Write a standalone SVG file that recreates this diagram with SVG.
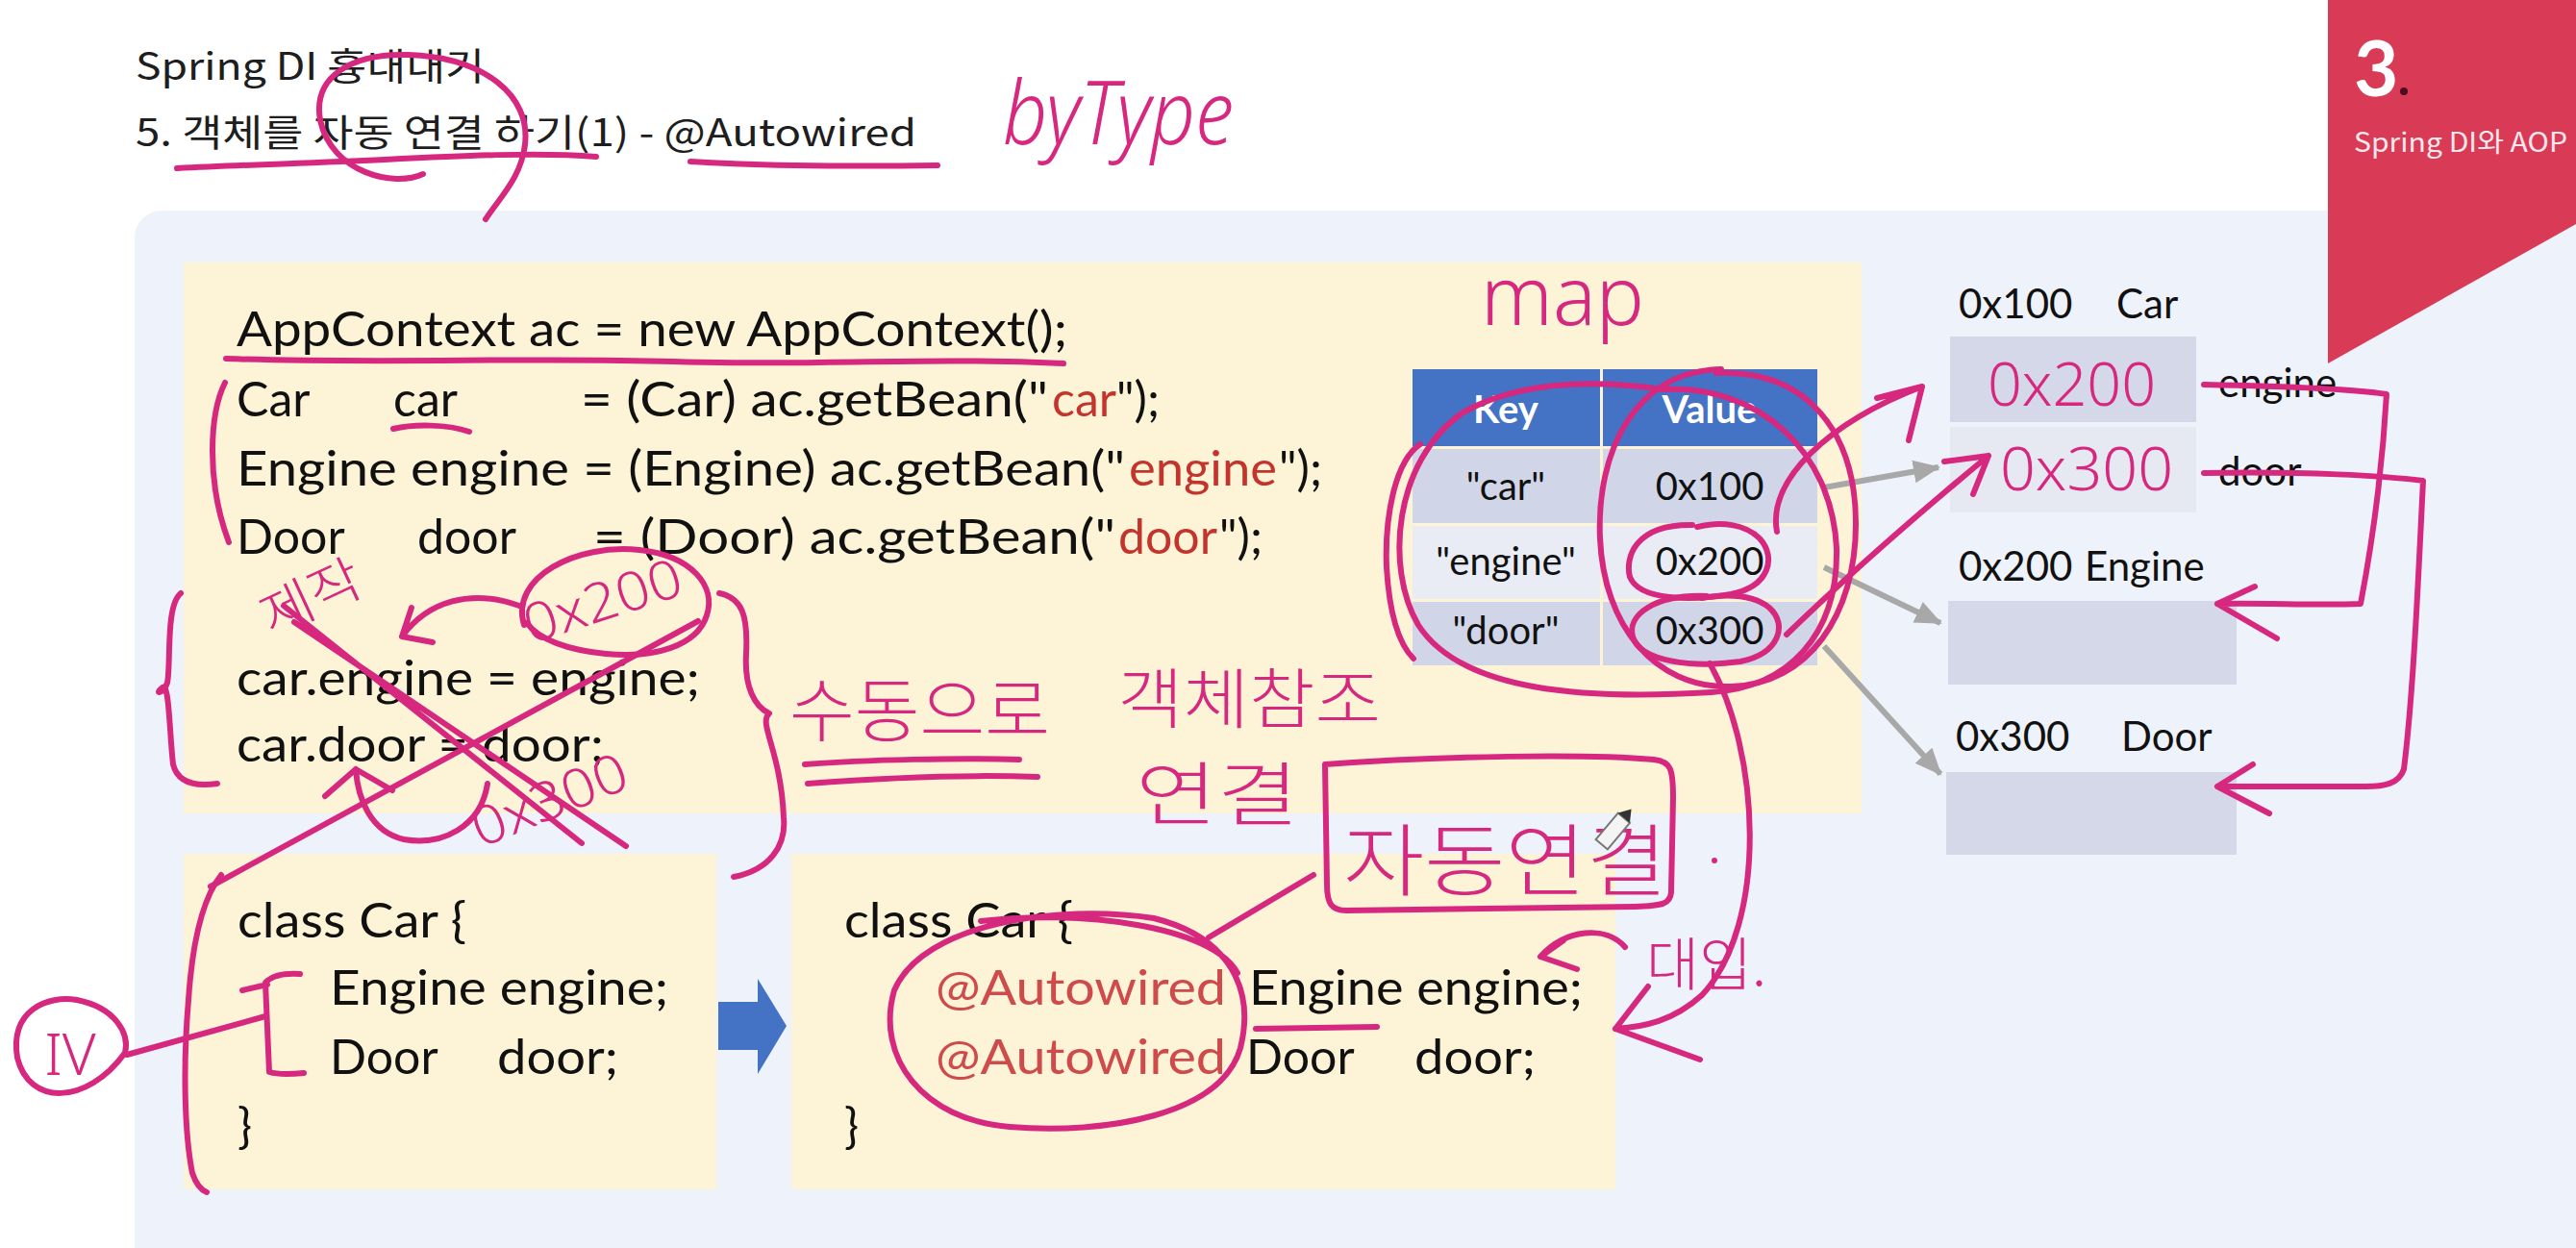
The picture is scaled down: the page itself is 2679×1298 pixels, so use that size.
<svg xmlns="http://www.w3.org/2000/svg" width="2679" height="1298" viewBox="0 0 2679 1298">
  <defs>
    <style>
      .title { font-family: "Noto Sans CJK KR", "Noto Sans", sans-serif; font-size: 39px; fill: #1e1e1e; }
      .code { font-family: Lato, "Noto Sans", sans-serif; font-size: 50px; fill: #111; }
      .red { fill: #c3352c; }
      .anno { fill: #cf4a4a; }
      .cell { font-family: Lato, "Noto Sans", sans-serif; font-size: 40px; fill: #111; text-anchor: middle; }
      .head { font-family: Lato, "Noto Sans", sans-serif; font-size: 40px; font-weight: bold; fill: #fff; text-anchor: middle; }
      .mem { font-family: Lato, "Noto Sans", sans-serif; font-size: 42px; fill: #111; }
      .hand { font-family: "Noto Sans CJK KR", "Noto Sans", sans-serif; font-weight: 300; fill: #d6287f; }
      .handl { font-family: "Noto Sans", sans-serif; font-weight: 300; fill: #d6287f; }
      .ink { fill: none; stroke: #d6287f; stroke-width: 6; stroke-linecap: round; stroke-linejoin: round; }
      .grey { fill: none; stroke: #a8a8a8; stroke-width: 6; }
    </style>
    <marker id="greyHead" markerUnits="userSpaceOnUse" markerWidth="30" markerHeight="30" viewBox="0 0 30 30" refX="26" refY="15" orient="auto">
      <path d="M0,3 L28,15 L0,27 Z" fill="#a8a8a8"/>
    </marker>
  </defs>

  <!-- page -->
  <rect width="2679" height="1298" fill="#ffffff"/>
  <rect id="panel" x="140" y="219" width="2600" height="1200" rx="28" fill="#eef2fa"/>

  <!-- heading -->
  <g id="heading">
    <text class="title" x="141" y="83" textLength="363" lengthAdjust="spacingAndGlyphs">Spring DI 흉내내기</text>
    <text class="title" x="141" y="152" textLength="812" lengthAdjust="spacingAndGlyphs">5. 객체를 자동 연결 하기(1) - @Autowired</text>
  </g>

  <!-- chapter tab -->
  <g id="chapter-tab">
    <polygon points="2421,0 2679,0 2679,233 2421,378" fill="#d93a56"/>
    <text x="2448" y="100" font-family="Lato, 'Noto Sans', sans-serif" font-size="80" font-weight="bold" fill="#ffffff">3</text>
    <circle cx="2500" cy="95" r="4" fill="#4a1020"/>
    <text x="2448" y="158" font-family="'Noto Sans CJK KR', 'Noto Sans', sans-serif" font-size="28" fill="#fbe8ec" textLength="222" lengthAdjust="spacingAndGlyphs">Spring DI와 AOP</text>
  </g>

  <!-- main code block -->
  <g id="main-code">
    <rect x="191" y="273" width="1745" height="573" fill="#fdf4d8"/>
    <text class="code" x="246" y="360" textLength="864" lengthAdjust="spacingAndGlyphs">AppContext ac = new AppContext();</text>
    <text class="code" x="246" y="433">Car</text>
    <text class="code" x="409" y="433">car</text>
    <text class="code" x="604" y="433" textLength="486" lengthAdjust="spacingAndGlyphs">= (Car) ac.getBean("</text>
    <text class="code red" x="1094" y="433">car</text>
    <text class="code" x="1161" y="433">");</text>
    <text class="code" x="246" y="505" textLength="924" lengthAdjust="spacingAndGlyphs">Engine engine = (Engine) ac.getBean("</text>
    <text class="code red" x="1174" y="505" textLength="154" lengthAdjust="spacingAndGlyphs">engine</text>
    <text class="code" x="1330" y="505">");</text>
    <text class="code" x="246" y="576">Door</text>
    <text class="code" x="434" y="576">door</text>
    <text class="code" x="617" y="576" textLength="543" lengthAdjust="spacingAndGlyphs">= (Door) ac.getBean("</text>
    <text class="code red" x="1163" y="576">door</text>
    <text class="code" x="1268" y="576">");</text>
    <text class="code" x="246" y="723" textLength="482" lengthAdjust="spacingAndGlyphs">car.engine = engine;</text>
    <text class="code" x="246" y="792" textLength="382" lengthAdjust="spacingAndGlyphs">car.door = door;</text>
  </g>

  <!-- bean map table -->
  <g id="bean-map">
    <rect x="1469" y="384" width="195" height="80" fill="#4472c4"/>
    <rect x="1667" y="384" width="223" height="80" fill="#4472c4"/>
    <rect x="1469" y="467" width="195" height="77" fill="#d0d6e8"/>
    <rect x="1667" y="467" width="223" height="77" fill="#d0d6e8"/>
    <rect x="1469" y="547" width="195" height="76" fill="#e9ecf4"/>
    <rect x="1667" y="547" width="223" height="76" fill="#e9ecf4"/>
    <rect x="1469" y="626" width="195" height="66" fill="#d0d6e8"/>
    <rect x="1667" y="626" width="223" height="66" fill="#d0d6e8"/>
    <text class="head" x="1566" y="440">Key</text>
    <text class="head" x="1778" y="440">Value</text>
    <text class="cell" x="1566" y="520">"car"</text>
    <text class="cell" x="1778" y="520">0x100</text>
    <text class="cell" x="1566" y="598">"engine"</text>
    <text class="cell" x="1778" y="598">0x200</text>
    <text class="cell" x="1566" y="670">"door"</text>
    <text class="cell" x="1778" y="670">0x300</text>
  </g>

  <!-- objects in memory -->
  <g id="obj-car">
    <text class="mem" x="2037" y="331">0x100</text>
    <text class="mem" x="2201" y="331">Car</text>
    <rect x="2028" y="350" width="256" height="89" fill="#d4d8e8"/>
    <rect x="2028" y="444" width="256" height="89" fill="#e6e9f2"/>
    <text class="mem" x="2307" y="413">engine</text>
    <text class="mem" x="2307" y="505">door</text>
  </g>
  <g id="obj-engine">
    <text class="mem" x="2037" y="604">0x200</text>
    <text class="mem" x="2168" y="604">Engine</text>
    <rect x="2026" y="625" width="300" height="87" fill="#d4d8e8"/>
  </g>
  <g id="obj-door">
    <text class="mem" x="2034" y="781">0x300</text>
    <text class="mem" x="2206" y="781">Door</text>
    <rect x="2024" y="803" width="302" height="86" fill="#d4d8e8"/>
  </g>

  <!-- class Car, plain fields -->
  <g id="class-car-plain">
    <rect x="191" y="888" width="554" height="349" fill="#fdf4d8"/>
    <text class="code" x="247" y="975" textLength="238" lengthAdjust="spacingAndGlyphs">class Car {</text>
    <text class="code" x="343" y="1045" textLength="352" lengthAdjust="spacingAndGlyphs">Engine engine;</text>
    <text class="code" x="343" y="1117">Door</text>
    <text class="code" x="517" y="1117" textLength="126" lengthAdjust="spacingAndGlyphs">door;</text>
    <text class="code" x="247" y="1189">}</text>
  </g>

  <!-- class Car, autowired fields -->
  <g id="class-car-autowired">
    <rect x="823" y="888" width="857" height="349" fill="#fdf4d8"/>
    <text class="code" x="878" y="975" textLength="238" lengthAdjust="spacingAndGlyphs">class Car {</text>
    <text class="code anno" x="973" y="1045" textLength="302" lengthAdjust="spacingAndGlyphs">@Autowired</text>
    <text class="code" x="1299" y="1045" textLength="347" lengthAdjust="spacingAndGlyphs">Engine engine;</text>
    <text class="code anno" x="973" y="1117" textLength="302" lengthAdjust="spacingAndGlyphs">@Autowired</text>
    <text class="code" x="1296" y="1117">Door</text>
    <text class="code" x="1471" y="1117" textLength="126" lengthAdjust="spacingAndGlyphs">door;</text>
    <text class="code" x="878" y="1189">}</text>
  </g>

  <!-- connectors -->
  <g id="connectors">
    <path class="grey" d="M1897,507 L2016,486" marker-end="url(#greyHead)"/>
    <path class="grey" d="M1897,590 L2018,648" marker-end="url(#greyHead)"/>
    <path class="grey" d="M1897,672 L2018,805" marker-end="url(#greyHead)"/>
    <polygon points="747,1042 788,1042 788,1018 818,1067 788,1117 788,1092 747,1092" fill="#4472c4"/>
  </g>

  <!-- pen notes -->
  <g id="pen-notes">
    <!-- heading marks -->
    <path class="ink" d="M440,181 C410,195 345,180 333,125 C325,80 365,55 425,57 C505,60 552,100 546,150 C542,185 520,205 505,228"/>
    <path class="ink" d="M184,175 C260,171 320,170 400,166 S560,158 620,163"/>
    <path class="ink" d="M718,168 C800,173 900,173 975,172"/>
    <text class="handl" x="1043" y="150" font-size="92" font-style="italic" textLength="240" lengthAdjust="spacingAndGlyphs">byType</text>

    <!-- main code marks -->
    <path class="ink" d="M235,373 C400,379 550,371 700,376 S950,371 1106,378"/>
    <path class="ink" d="M409,446 C430,441 465,441 488,449"/>
    <path class="ink" d="M234,398 C218,430 214,500 238,564"/>
    <path class="ink" d="M188,617 C172,630 178,690 174,710 C170,722 160,722 168,716 C176,705 176,760 180,795 C185,815 205,818 226,815"/>
    <text class="hand" x="282" y="662" font-size="55" textLength="110" lengthAdjust="spacingAndGlyphs" transform="rotate(-25 282 662)">제작</text>
    <path class="ink" d="M295,630 L605,877 M306,647 L651,880"/>
    <path class="ink" d="M726,646 L219,922"/>
    <path class="ink" d="M545,650 C530,600 600,565 665,572 C720,578 745,610 735,640 C725,672 680,685 630,680 C590,676 560,665 548,648"/>
    <text class="handl" x="552" y="670" font-size="56" textLength="170" lengthAdjust="spacingAndGlyphs" transform="rotate(-18 552 670)">0x200</text>
    <path class="ink" d="M540,630 C490,612 445,625 418,662 M418,662 L428,632 M418,662 L450,668"/>
    <text class="handl" x="500" y="882" font-size="56" textLength="170" lengthAdjust="spacingAndGlyphs" transform="rotate(-22 500 882)">0x300</text>
    <path class="ink" d="M507,815 C500,860 460,880 420,873 C385,865 372,830 370,800 M370,800 L338,828 M370,800 L408,822"/>
    <path class="ink" d="M748,617 C772,622 778,640 776,680 C774,715 785,735 800,742 C788,752 812,780 815,850 C818,880 800,905 763,912"/>
    <text class="hand" x="821" y="765" font-size="72" textLength="271" lengthAdjust="spacingAndGlyphs">수동으로</text>
    <path class="ink" d="M837,795 C900,790 1000,788 1060,790 M840,815 C930,808 1020,806 1079,808"/>
    <text class="hand" x="1162" y="752" font-size="68" textLength="274" lengthAdjust="spacingAndGlyphs">객체참조</text>
    <text class="hand" x="1181" y="852" font-size="72" textLength="170" lengthAdjust="spacingAndGlyphs">연결</text>

    <!-- map marks -->
    <text class="handl" x="1540" y="338" font-size="84" textLength="170" lengthAdjust="spacingAndGlyphs">map</text>
    <path class="ink" d="M1730,405 C1830,400 1905,470 1910,570 C1912,660 1860,715 1780,720 C1650,728 1520,720 1475,650 C1440,590 1450,480 1520,430 C1580,395 1660,395 1730,405"/>
    <path class="ink" d="M1477,462 C1450,480 1440,540 1442,590 C1445,640 1455,670 1470,685"/>
    <path class="ink" d="M1790,384 C1700,386 1660,470 1664,560 C1668,650 1720,716 1800,714 C1880,712 1930,640 1930,545 C1930,450 1880,384 1785,388"/>
    <path class="ink" d="M1760,546 C1700,545 1690,580 1695,600 C1705,625 1760,625 1800,618 C1840,610 1848,580 1830,560 C1815,545 1790,542 1765,548"/>
    <path class="ink" d="M1775,620 C1720,618 1692,640 1698,662 C1705,688 1760,695 1810,688 C1850,680 1860,650 1840,632 C1825,620 1800,617 1770,622"/>
    <path class="ink" d="M1848,553 C1838,500 1900,440 1999,402 M1999,402 L1952,414 M1999,402 L1985,458"/>
    <path class="ink" d="M1858,660 C1920,600 2000,530 2068,474 M2068,474 L2022,480 M2068,474 L2052,514"/>
    <path class="ink" d="M1778,690 C1830,780 1840,960 1770,1035 C1740,1062 1710,1068 1680,1070 M1680,1070 L1714,1026 M1680,1070 L1768,1102"/>

    <!-- memory marks -->
    <text class="handl" x="2067" y="422" font-size="62" textLength="175" lengthAdjust="spacingAndGlyphs">0x200</text>
    <text class="handl" x="2080" y="510" font-size="62" textLength="180" lengthAdjust="spacingAndGlyphs">0x300</text>
    <path class="ink" d="M2292,400 C2390,402 2450,405 2482,410 C2478,480 2468,560 2455,628 C2410,630 2360,627 2306,628 M2306,628 L2345,610 M2306,628 L2368,664"/>
    <path class="ink" d="M2292,492 C2400,490 2480,495 2520,500 C2515,600 2510,720 2500,800 C2495,815 2480,818 2460,818 C2400,818 2350,818 2306,818 M2306,818 L2343,795 M2306,818 L2360,846"/>

    <!-- autowiring marks -->
    <path class="ink" d="M1378,795 C1500,786 1650,784 1720,790 C1738,792 1740,800 1740,830 L1738,928 C1737,940 1730,942 1700,943 L1400,947 C1385,947 1380,940 1380,920 Z"/>
    <text class="hand" x="1397" y="925" font-size="82" textLength="337" lengthAdjust="spacingAndGlyphs">자동연결</text>
    <circle cx="1783" cy="895" r="3" fill="#d6287f"/>
    <path class="ink" d="M1366,910 L1257,975"/>
    <path class="ink" d="M1200,955 C1100,940 960,960 930,1030 C910,1100 960,1165 1050,1172 C1150,1180 1270,1160 1290,1090 C1305,1030 1280,975 1200,955 M1020,958 C1120,946 1260,962 1287,1012"/>
    <path class="ink" d="M1306,1070 L1432,1068"/>
    <text class="hand" x="1712" y="1025" font-size="60" textLength="125" lengthAdjust="spacingAndGlyphs">대입.</text>
    <path class="ink" d="M1690,985 C1670,962 1628,966 1602,995 M1602,995 L1626,978 M1602,995 L1640,1008"/>

    <!-- class Car field marks -->
    <path class="ink" d="M130,1095 C90,1150 30,1150 18,1100 C10,1050 50,1035 80,1040 C120,1048 135,1075 130,1095 Z"/>
    <text class="handl" x="73" y="1118" font-size="60" text-anchor="middle">IV</text>
    <path class="ink" d="M132,1097 L276,1057"/>
    <path class="ink" d="M312,1013 C295,1012 282,1015 276,1022 L280,1115 C290,1118 305,1117 316,1116 M252,1030 L278,1024"/>
    <path class="ink" d="M230,910 C210,935 200,980 196,1040 C190,1110 192,1180 200,1220 C204,1232 210,1238 215,1240"/>

    <!-- pencil cursor -->
    <g transform="rotate(40 1676 866)">
      <rect x="1668" y="846" width="16" height="36" fill="#f4f4f4" stroke="#777" stroke-width="2"/>
      <path d="M1668,846 L1676,834 L1684,846 Z" fill="#333"/>
    </g>
  </g>
</svg>
